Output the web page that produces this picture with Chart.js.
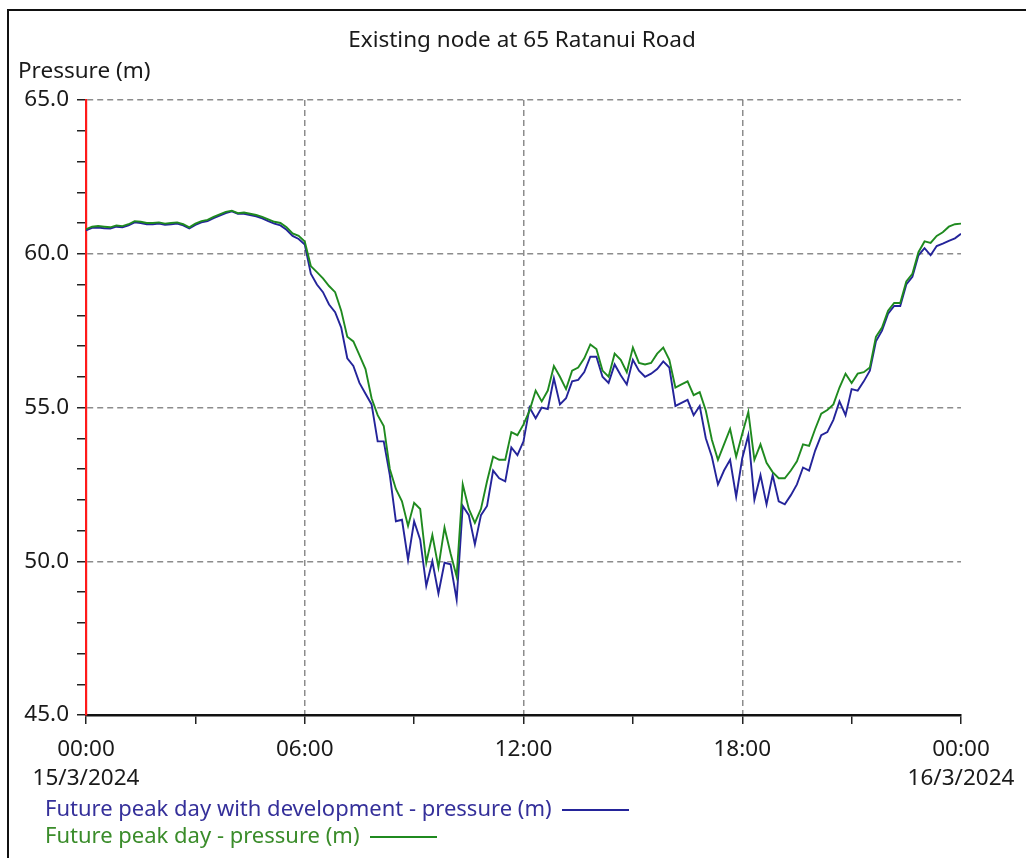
<!DOCTYPE html>
<html>
<head>
<meta charset="utf-8">
<title>Existing node at 65 Ratanui Road</title>
<script src="https://cdn.jsdelivr.net/npm/chart.js@4/dist/chart.umd.min.js"></script>
<style>
    body { margin: 0; background: #fff; font-family: "Noto Sans", sans-serif; }
    #frame { position: absolute; left: 7px; top: 9px; width: 1030px; height: 860px;
             border-top: 2px solid #111; border-left: 2px solid #111; }
    #chartBox { position: absolute; left: 9px; top: 12px; width: 1017px; height: 790px; }
    #legend { position: absolute; left: 45px; top: 794px; font-size: 22px; }
    .row { height: 27px; line-height: 27px; white-space: nowrap; }
    .swatch { display: inline-block; width: 67px; height: 2px; margin-left: 10px; vertical-align: middle; }
</style>
</head>
<body>
<div id="frame"></div>
<div id="chartBox"><canvas id="pressureChart"></canvas></div>
<div id="legend"></div>
<script>
// pressure every 10 minutes, 15/3/2024 00:00 -> 16/3/2024 00:00
const withDevelopment = [
    60.76, 60.84, 60.85, 60.83, 60.82, 60.88, 60.86, 60.92, 61.02, 61.00, 60.96, 60.96, 60.98, 60.94, 60.96, 60.98,
    60.92, 60.82, 60.94, 61.02, 61.06, 61.16, 61.24, 61.32, 61.38, 61.30, 61.30, 61.26, 61.22, 61.15, 61.06, 60.98,
    60.92, 60.78, 60.58, 60.48, 60.30,
    59.35, 59.00, 58.75, 58.35, 58.10, 57.60, 56.60, 56.35, 55.80, 55.45, 55.10, 53.90, 53.90, 52.80, 51.30, 51.35,
    50.05, 51.30, 50.70, 49.20, 50.00, 48.95, 49.95, 49.90, 48.75, 51.80, 51.50, 50.55, 51.50, 51.80, 52.95, 52.70,
    52.60, 53.70, 53.45, 53.90,
    55.00, 54.65, 55.00, 54.95, 55.95, 55.10, 55.30, 55.85, 55.90, 56.15, 56.65, 56.65, 56.00, 55.80, 56.40, 56.05,
    55.75, 56.55, 56.20, 56.00, 56.10, 56.25, 56.50, 56.30, 55.05, 55.15, 55.25, 54.75, 55.05, 54.00, 53.40, 52.50,
    52.95, 53.30, 52.10, 53.35,
    54.10, 52.00, 52.80, 51.85, 52.80, 51.95, 51.85, 52.15, 52.50, 53.05, 52.95, 53.60, 54.10, 54.20, 54.60, 55.20,
    54.75, 55.60, 55.55, 55.85, 56.20, 57.15, 57.50, 58.05, 58.30, 58.30, 59.00, 59.25, 59.95, 60.18, 59.95, 60.25,
    60.33, 60.42, 60.50, 60.65
];
const peakDay = [
    60.80, 60.88, 60.90, 60.88, 60.86, 60.92, 60.90, 60.96, 61.06, 61.04, 61.00, 61.00, 61.02, 60.98, 61.00, 61.02,
    60.96, 60.86, 60.98, 61.06, 61.10, 61.20, 61.28, 61.36, 61.40, 61.32, 61.34, 61.30, 61.26, 61.20, 61.12, 61.04,
    61.00, 60.86, 60.66, 60.58, 60.40,
    59.60, 59.40, 59.20, 58.95, 58.75, 58.15, 57.30, 57.15, 56.70, 56.25, 55.30, 54.75, 54.40, 53.00, 52.35, 51.95,
    51.15, 51.90, 51.70, 49.95, 50.85, 49.80, 51.10, 50.25, 49.50, 52.50, 51.70, 51.25, 51.70, 52.60, 53.40, 53.30,
    53.30, 54.20, 54.10, 54.45,
    54.90, 55.55, 55.20, 55.55, 56.35, 56.00, 55.60, 56.20, 56.30, 56.60, 57.05, 56.90, 56.20, 56.00, 56.75, 56.55,
    56.15, 56.95, 56.45, 56.40, 56.45, 56.75, 56.95, 56.55, 55.65, 55.75, 55.85, 55.40, 55.50, 54.90, 53.95, 53.30,
    53.80, 54.30, 53.40, 54.15,
    54.85, 53.30, 53.80, 53.20, 52.90, 52.70, 52.70, 52.95, 53.25, 53.80, 53.75, 54.30, 54.80, 54.92, 55.10, 55.65,
    56.10, 55.80, 56.10, 56.15, 56.30, 57.30, 57.60, 58.15, 58.40, 58.40, 59.10, 59.35, 60.05, 60.40, 60.35, 60.58,
    60.70, 60.88, 60.96, 60.98
];
const seriesNames = ['Future peak day with development - pressure (m)', 'Future peak day - pressure (m)'];
const tickTimes = { 0: '00:00', 6: '06:00', 12: '12:00', 18: '18:00', 24: '00:00' };
const tickDates = { 0: '15/3/2024', 24: '16/3/2024' };

// hours since midnight, one per reading
const hours = [];
for (let i = 0; i < peakDay.length; i++) hours.push(i / 6);

const blue = '#24249a';
const green = '#1f8a1f';
const gridGray = 'rgba(128,128,128,0.9)';
const family = '"Noto Sans", sans-serif';
const textSize = 22.5;

const ctx = document.getElementById('pressureChart').getContext('2d');
const chart = new Chart(ctx, {
    type: 'line',
    data: {
        labels: hours,
        datasets: [
            { label: seriesNames[1], data: peakDay, borderColor: green, borderWidth: 1.9, pointRadius: 0, tension: 0 },
            { label: seriesNames[0], data: withDevelopment, borderColor: blue, borderWidth: 1.9, pointRadius: 0, tension: 0 }
        ]
    },
    options: {
        responsive: true,
        maintainAspectRatio: false,
        animation: false,
        devicePixelRatio: 1,
        layout: { padding: { left: 9, right: 0, top: 0, bottom: 0 } },
        plugins: {
            legend: { display: false },
            tooltip: { enabled: false },
            title: {
                display: true,
                text: 'Existing node at 65 Ratanui Road',
                color: '#1a1a1a',
                font: { family: family, size: textSize, weight: 'normal', lineHeight: 1.2 },
                padding: { top: 15, bottom: 4.5 }
            },
            subtitle: {
                display: true,
                text: 'Pressure (m)',
                align: 'start',
                color: '#1a1a1a',
                font: { family: family, size: textSize, weight: 'normal', lineHeight: 1.2 },
                padding: { top: 0, bottom: 14.5 }
            }
        },
        scales: {
            x: {
                type: 'linear',
                min: 0,
                max: 24,
                afterFit: scale => { scale.height = 87; scale.paddingRight = 65; },
                ticks: {
                    stepSize: 3,
                    autoSkip: false,
                    maxRotation: 0,
                    padding: 12,
                    color: '#1a1a1a',
                    font: { family: family, size: textSize, lineHeight: 1.25 },
                    callback: value => {
                        if (tickDates[value]) return [tickTimes[value], tickDates[value]];
                        return tickTimes[value] || '';
                    }
                },
                grid: {
                    color: c => (c.tick && [6, 12, 18].includes(c.tick.value)) ? gridGray : 'rgba(0,0,0,0)',
                    lineWidth: 1.5,
                    tickColor: '#222',
                    tickWidth: 1.5,
                    tickLength: 9
                },
                border: { display: true, color: '#111', width: 2.5, dash: [6, 4] }
            },
            y: {
                min: 45,
                max: 65,
                afterFit: scale => { scale.width = 68; },
                ticks: {
                    stepSize: 1,
                    padding: 8,
                    color: '#1a1a1a',
                    font: { family: family, size: textSize },
                    callback: value => value % 5 === 0 ? value.toFixed(1) : ''
                },
                grid: {
                    color: c => (c.tick && c.tick.value % 5 === 0 && c.tick.value > 45) ? gridGray : 'rgba(0,0,0,0)',
                    lineWidth: 1.5,
                    tickColor: '#222',
                    tickWidth: 1.5,
                    tickLength: 9
                },
                border: { display: true, color: '#ff1a1a', width: 2.2, dash: [6, 4] }
            }
        }
    }
});

// legend rows: text first, line sample after it
const legendRows = [
    { text: seriesNames[0], color: blue, textColor: '#35309a' },
    { text: seriesNames[1], color: green, textColor: '#3a8c2a' }
];
const legendEl = document.getElementById('legend');
legendRows.forEach(r => {
    const row = document.createElement('div');
    row.className = 'row';
    row.style.color = r.textColor;
    row.innerHTML = r.text + '<span class="swatch" style="background:' + r.color + '"></span>';
    legendEl.appendChild(row);
});
</script>
</body>
</html>
